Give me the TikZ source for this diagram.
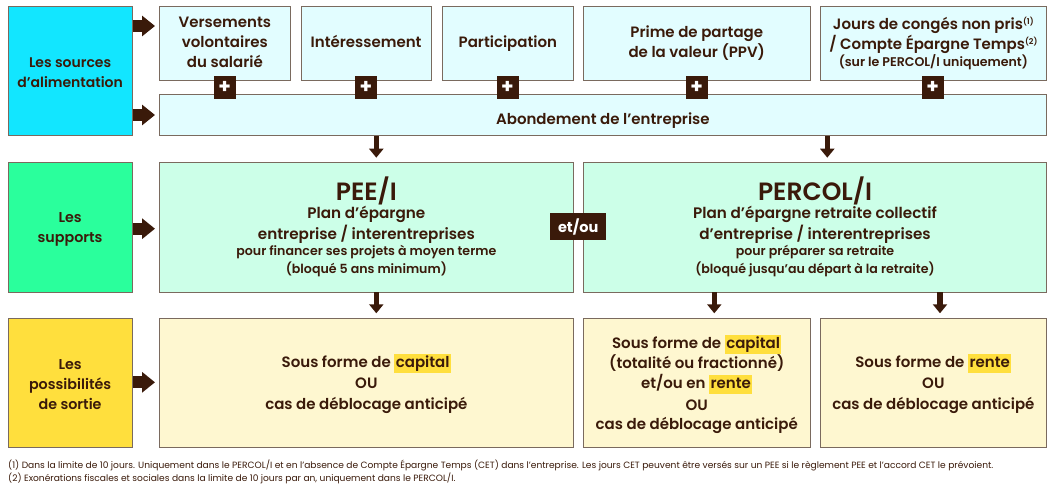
\documentclass[tikz,border=0pt]{standalone}
\usepackage{fontspec}
\setmainfont{Poppins}
\newfontfamily\semib{Poppins SemiBold}
\newfontfamily\boldf{Poppins Bold}
\newfontfamily\regfont{Poppins}
\usetikzlibrary{arrows.meta}
\definecolor{ink}{HTML}{3A1A0A}
\definecolor{edge}{HTML}{7A6A5E}
\definecolor{cyanS}{HTML}{12E6FF}
\definecolor{cyanL}{HTML}{E2FDFF}
\definecolor{greenS}{HTML}{2AFF9C}
\definecolor{greenL}{HTML}{CCFFE8}
\definecolor{yelS}{HTML}{FFDF3D}
\definecolor{yelL}{HTML}{FEF7D0}
\newcommand{\hl}[1]{\setlength{\fboxsep}{0pt}\smash{\colorbox{yelS}{\rule[-5.5pt]{0pt}{19pt}\hspace{1.5pt}#1\hspace{1.5pt}}}}
\newcommand{\sz}[2]{\fontsize{#1}{#2}\selectfont}
\newcommand{\sps}[1]{\raisebox{5.5pt}{\sz{8}{8}#1}}
\tikzset{
 x=1pt,y=-1pt,
 box/.style={draw=edge,line width=.7pt,inner sep=0pt,anchor=north west},
 lab/.style={inner sep=0pt,align=center,text=ink,font=\semib\sz{15}{19.7}},
 plusbox/.style={fill=ink,text=white,minimum width=22pt,minimum height=22pt,inner sep=0pt,font=\boldf\sz{20}{20}},
 andbox/.style={fill=ink,text=white,minimum width=55.5pt,minimum height=26.5pt,inner sep=0pt,font=\boldf\sz{14.5}{14.5}},
 bigarrow/.style={ink,line width=12pt,-{Triangle[length=13pt,width=20pt]}},
 downarrow/.style={ink,line width=5.3pt,-{Triangle[length=9pt,width=14pt]}},
 note/.style={inner sep=0pt,anchor=base west,text=ink,font=\regfont\sz{9.1}{10}},
}
\newcommand{\rbox}[8]{%
 \node[box,fill=#5,minimum width=#3pt-#1pt,minimum height=#4pt-#2pt] (#6) at (#1,#2) {};
 \node[lab,yshift=#8] (#6t) at (#6.center) {#7};}
\begin{document}
\begin{tikzpicture}
\useasboundingbox (0,0) rectangle (1052,487);
% row 1
\rbox{7.5}{6}{132}{135.3}{cyanS}{src}{\sz{14}{19.7}Les sources\\\sz{14}{19.7}d’alimentation}{-2pt}
\rbox{159}{6}{290}{80}{cyanL}{vv}{Versements\\volontaires\\du salarié}{1pt}
\rbox{300.5}{6}{431}{80}{cyanL}{inte}{Intéressement}{2pt}
\rbox{442}{6}{573}{80}{cyanL}{part}{Participation}{0pt}
\rbox{583.3}{6}{809.5}{80}{cyanL}{ppv}{Prime de partage\\de la valeur (PPV)}{0pt}
\rbox{820}{6}{1046}{80}{cyanL}{jrs}{Jours de congés non pris\sps{(1)}\\/ Compte Épargne Temps\sps{(2)}\\[-3pt]\sz{12.6}{14}(sur le PERCOL/I uniquement)}{0pt}
\rbox{159}{94.3}{1046}{135.3}{cyanL}{abo}{Abondement de l’entreprise}{-5pt}
\node[plusbox] (p1) at (224.6,87.5) {+};
\node[plusbox] (p2) at (366,87.5) {+};
\node[plusbox] (p3) at (507.5,87.5) {+};
\node[plusbox] (p4) at (696.7,87.5) {+};
\node[plusbox] (p5) at (932.7,87.5) {+};
% row 2
\rbox{7.5}{161.7}{132}{291.7}{greenS}{sup}{\sz{14.3}{19.7}Les\\\sz{14.3}{19.7}supports}{-2pt}
\rbox{159}{161.7}{573}{291.7}{greenL}{pee}{\sz{25}{25}PEE/I\\[-1.4pt]\sz{15.2}{19.7}Plan d’épargne\\[.5pt]\sz{15.2}{19.7}entreprise / interentreprises\\[-3.7pt]\sz{12.6}{19.7}pour financer ses projets à moyen terme\\[-1.7pt]\sz{12.6}{19.7}(bloqué 5 ans minimum)}{.3pt}
\rbox{583.3}{161.7}{1046}{291.7}{greenL}{per}{\sz{25}{25}PERCOL/I\\[-1.4pt]\sz{15.2}{19.7}Plan d’épargne retraite collectif\\[.5pt]\sz{15.2}{19.7}d’entreprise / interentreprises\\[-3.7pt]\sz{12.6}{19.7}pour préparer sa retraite\\[-1.7pt]\sz{12.6}{19.7}(bloqué jusqu’au départ à la retraite)}{.3pt}
\node[andbox] (and) at (578.2,226.7) {et/ou};
% row 3
\rbox{7.5}{317.5}{132}{447.2}{yelS}{out}{\sz{14.3}{19.7}Les\\\sz{14.3}{19.7}possibilités\\\sz{14.3}{19.7}de sortie}{-1.7pt}
\rbox{159}{317.5}{573}{447.2}{yelL}{o1}{Sous forme de \hl{capital}\\[1.3pt]OU\\[1.3pt]cas de déblocage anticipé}{-1.8pt}
\rbox{583.3}{317.5}{809.5}{447.2}{yelL}{o2}{Sous forme de \hl{capital}\\[.3pt](totalité ou fractionné)\\[.6pt]et/ou en \hl{rente}\\[2pt]OU\\[-.7pt]cas de déblocage anticipé}{-2pt}
\rbox{820}{317.5}{1046}{447.2}{yelL}{o3}{Sous forme de \hl{rente}\\[1.3pt]OU\\[1.3pt]cas de déblocage anticipé}{-1.8pt}
% connectors
\coordinate (a1) at (src.east |- 0,26);  \coordinate (a1e) at (155,26);
\coordinate (a2) at (src.east |- 0,115); \coordinate (a2e) at (155,115);
\coordinate (a3) at (sup.east |- 0,228.7); \coordinate (a3e) at (155,228.7);
\coordinate (a4) at (out.east |- 0,382.3); \coordinate (a4e) at (155,382.3);
\foreach \s/\e in {a1/a1e,a2/a2e,a3/a3e,a4/a4e} \draw[bigarrow] (\s) -- (\e);
\draw[downarrow] (376.3,0 |- abo.south) -- (376.3,157.7);
\draw[downarrow] (827.3,0 |- abo.south) -- (827.3,157.7);
\draw[downarrow] (376.3,0 |- pee.south) -- (376.3,313.3);
\draw[downarrow] (714.3,0 |- per.south) -- (714.3,313.3);
\draw[downarrow] (940,0 |- per.south) -- (940,313.3);
% notes
\node[note] (n1) at (8,468) {(1) Dans la limite de 10 jours. Uniquement dans le PERCOL/I et en l’absence de Compte Épargne Temps (CET) dans l’entreprise. Les jours CET peuvent être versés sur un PEE si le règlement PEE et l’accord CET le prévoient.};
\node[note] (n2) at (8,481) {(2) Exonérations fiscales et sociales dans la limite de 10 jours par an, uniquement dans le PERCOL/I.};
\end{tikzpicture}
\end{document}
